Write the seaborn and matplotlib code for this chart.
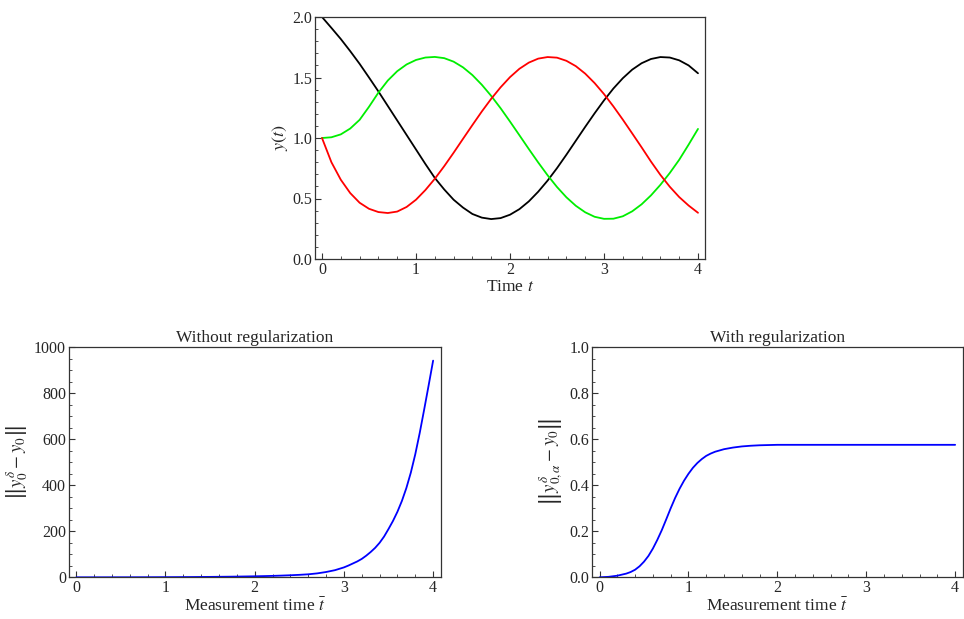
import numpy as np
import pandas as pd
import seaborn as sns
import matplotlib
matplotlib.use("Agg")
import matplotlib.pyplot as plt
from matplotlib.ticker import MultipleLocator, FormatStrFormatter

# ---------------- data ----------------
t = [round(0.1 * i, 1) for i in range(41)]

y_black = [2.000, 1.910, 1.818, 1.718, 1.613, 1.500, 1.385, 1.265, 1.145, 1.025,
           0.905, 0.785, 0.670, 0.575, 0.490, 0.425, 0.372, 0.342, 0.330, 0.338,
           0.366, 0.412, 0.476, 0.556, 0.648, 0.751, 0.862, 0.977, 1.092, 1.204,
           1.311, 1.409, 1.494, 1.565, 1.618, 1.653, 1.669, 1.665, 1.642, 1.600,
           1.535]

y_green = [1.000, 1.006, 1.030, 1.078, 1.150, 1.258, 1.375, 1.475, 1.552, 1.608,
           1.645, 1.665, 1.670, 1.660, 1.631, 1.584, 1.520, 1.440, 1.348, 1.246,
           1.136, 1.023, 0.909, 0.798, 0.692, 0.595, 0.510, 0.440, 0.386, 0.349,
           0.332, 0.333, 0.353, 0.394, 0.452, 0.526, 0.613, 0.711, 0.820, 0.945,
           1.075]

y_red = [1.000, 0.800, 0.655, 0.545, 0.465, 0.415, 0.388, 0.380, 0.392, 0.430,
         0.490, 0.570, 0.663, 0.767, 0.878, 0.993, 1.107, 1.219, 1.324, 1.419,
         1.503, 1.572, 1.623, 1.656, 1.669, 1.664, 1.638, 1.594, 1.532, 1.454,
         1.363, 1.261, 1.152, 1.038, 0.923, 0.805, 0.695, 0.597, 0.512, 0.442,
         0.382]

t_noreg = [0.0, 0.1, 0.2, 0.3, 0.4, 0.5, 0.6, 0.7, 0.8, 0.9,
           1.0, 1.1, 1.2, 1.3, 1.4, 1.5, 1.6, 1.7, 1.8, 1.9,
           2.0, 2.1, 2.2, 2.3, 2.4, 2.5, 2.6, 2.7, 2.8, 2.9,
           3.0, 3.05, 3.1, 3.15, 3.2, 3.25, 3.3, 3.35, 3.4, 3.45,
           3.5, 3.55, 3.6, 3.65, 3.7, 3.75, 3.8, 3.85, 3.9, 3.95, 4.0]
err_noreg = [0.0, 0.02, 0.04, 0.07, 0.1, 0.15, 0.2, 0.3, 0.4, 0.5,
             0.65, 0.8, 1.0, 1.2, 1.5, 1.8, 2.2, 2.6, 3.1, 3.7,
             4.4, 5.2, 6.2, 7.4, 8.9, 10.7, 13.0, 17.0, 23.0, 31.0,
             43.0, 51.0, 60.0, 69.0, 80.0, 94.0, 110.0, 128.0, 150.0, 177.0,
             210.0, 245.0, 285.0, 332.0, 388.0, 455.0, 535.0, 628.0, 730.0, 835.0,
             942.0]

t_reg = [0.0, 0.1, 0.2, 0.3, 0.35, 0.4, 0.45, 0.5, 0.55, 0.6,
         0.65, 0.7, 0.75, 0.8, 0.85, 0.9, 0.95, 1.0, 1.05, 1.1,
         1.15, 1.2, 1.25, 1.3, 1.4, 1.5, 1.6, 1.7, 1.8, 1.9,
         2.0, 2.5, 3.0, 3.5, 4.0]
err_reg = [0.000, 0.002, 0.007, 0.016, 0.023, 0.033, 0.048, 0.068, 0.093, 0.125,
           0.163, 0.205, 0.252, 0.300, 0.345, 0.385, 0.420, 0.450, 0.476, 0.497,
           0.514, 0.528, 0.538, 0.546, 0.557, 0.564, 0.569, 0.572, 0.574, 0.575,
           0.576, 0.576, 0.576, 0.576, 0.576]

titles = ["Without regularization", "With regularization"]

# ---------------- style ----------------
sns.set_theme(style="ticks")
plt.rcParams["font.family"] = ["Liberation Serif", "DejaVu Serif"]
plt.rcParams["mathtext.fontset"] = "stix"
plt.rcParams["axes.edgecolor"] = "#333333"
plt.rcParams["axes.linewidth"] = 0.9
plt.rcParams["lines.solid_joinstyle"] = "round"

W, H = 964, 619
fig = plt.figure(figsize=(W / 100, H / 100), dpi=100)


def box(l, r, top, bot):
    return [l / W, 1 - bot / H, (r - l) / W, (bot - top) / H]


def style_axes(ax, xmaj, xmin, ymaj, ymin, yfmt):
    ax.xaxis.set_major_locator(MultipleLocator(xmaj))
    ax.xaxis.set_minor_locator(MultipleLocator(xmin))
    ax.yaxis.set_major_locator(MultipleLocator(ymaj))
    ax.yaxis.set_minor_locator(MultipleLocator(ymin))
    ax.yaxis.set_major_formatter(FormatStrFormatter(yfmt))
    ax.xaxis.set_major_formatter(FormatStrFormatter("%d"))
    ax.tick_params(which="both", direction="in", top=False, right=False,
                   color="#333333", labelsize=11.5, pad=2)
    ax.tick_params(which="major", length=4, width=0.8)
    ax.tick_params(which="minor", length=2, width=0.6)
    for s in ax.spines.values():
        s.set_visible(True)
        s.set_color("#333333")


# top panel
ax0 = fig.add_axes(box(315, 705, 17, 259))
df = pd.DataFrame({"t": t, "black": y_black, "green": y_green, "red": y_red})
for col, c in [("black", "#000000"), ("green", "#00ee00"), ("red", "#ff0000")]:
    sns.lineplot(data=df, x="t", y=col, ax=ax0, color=c, linewidth=1.3,
                 estimator=None, sort=False)
ax0.set_xlim(-0.0745, 4.0745)
ax0.set_ylim(0, 2.0)
style_axes(ax0, 1, 0.2, 0.5, 0.1, "%.1f")
ax0.set_xlabel("Time $t$", fontsize=12.5, labelpad=1)
ax0.set_ylabel("$y(t)$", fontsize=13, labelpad=2)

# bottom-left panel
ax1 = fig.add_axes(box(68.7, 440.7, 347.3, 577.3))
df1 = pd.DataFrame({"t": t_noreg, "e": err_noreg})
sns.lineplot(data=df1, x="t", y="e", ax=ax1, color="#0000ff", linewidth=1.3,
             estimator=None, sort=False)
ax1.set_xlim(-0.085, 4.085)
ax1.set_ylim(0, 1000)
style_axes(ax1, 1, 0.2, 200, 50, "%d")
ax1.set_title(titles[0], fontsize=12.5, pad=4)
ax1.set_xlabel(r"Measurement time $\bar{t}$", fontsize=12.5, labelpad=1)
ax1.set_ylabel(r"$\left\Vert y_0^{\delta} - y_0\right\Vert$", fontsize=13.5, labelpad=3)

# bottom-right panel
ax2 = fig.add_axes(box(592, 962.7, 347.3, 577.3))
df2 = pd.DataFrame({"t": t_reg, "e": err_reg})
sns.lineplot(data=df2, x="t", y="e", ax=ax2, color="#0000ff", linewidth=1.3,
             estimator=None, sort=False)
ax2.set_xlim(-0.085, 4.085)
ax2.set_ylim(0, 1.0)
style_axes(ax2, 1, 0.2, 0.2, 0.05, "%.1f")
ax2.set_title(titles[1], fontsize=12.5, pad=4)
ax2.set_xlabel(r"Measurement time $\bar{t}$", fontsize=12.5, labelpad=1)
ax2.set_ylabel(r"$\left\Vert y_{0,\alpha}^{\delta} - y_0\right\Vert$", fontsize=13.5, labelpad=3)

fig.savefig("out.png", dpi=100, facecolor="white")
